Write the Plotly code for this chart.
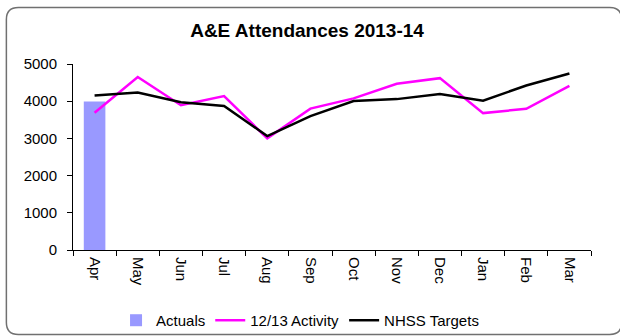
import plotly.graph_objects as go

months = ["Apr", "May", "Jun", "Jul", "Aug", "Sep", "Oct", "Nov", "Dec", "Jan", "Feb", "Mar"]
actuals = [3990, None, None, None, None, None, None, None, None, None, None, None]
activity_1213 = [3690, 4650, 3890, 4140, 3000, 3800, 4075, 4470, 4620, 3680, 3796, 4410]
nhss_targets = [4155, 4236, 3970, 3869, 3064, 3600, 4003, 4056, 4190, 4011, 4423, 4745]
y_ticks = [0, 1000, 2000, 3000, 4000, 5000]

W, H = 620, 336
ML, MR, MT, MB = 72.7, 28.7, 63.7, 85.7
pw, ph = W - ML - MR, H - MT - MB


def px(x):
    return (x - ML) / pw


def py(y):
    return (H - MB - y) / ph


fig = go.Figure()
fig.add_trace(go.Bar(x=months, y=actuals, name="Actuals", marker_color="#9999FF",
                     width=0.5, marker_line_width=0))
fig.add_trace(go.Scatter(x=months, y=activity_1213, name="12/13 Activity", mode="lines",
                         line=dict(color="#FF00FF", width=2.5)))
fig.add_trace(go.Scatter(x=months, y=nhss_targets, name="NHSS Targets", mode="lines",
                         line=dict(color="#000000", width=2.5)))

# rounded chart border
x0, x1, y0, y1, r = 6, 622, 7, 335, 12
path = (f"M {px(x0+r)},{py(y0)} L {px(x1-r)},{py(y0)} Q {px(x1)},{py(y0)} {px(x1)},{py(y0+r)} "
        f"L {px(x1)},{py(y1-r)} Q {px(x1)},{py(y1)} {px(x1-r)},{py(y1)} "
        f"L {px(x0+r)},{py(y1)} Q {px(x0)},{py(y1)} {px(x0)},{py(y1-r)} "
        f"L {px(x0)},{py(y0+r)} Q {px(x0)},{py(y0)} {px(x0+r)},{py(y0)} Z")
fig.add_shape(type="path", path=path, xref="paper", yref="paper",
              line=dict(color="#707070", width=1.5), layer="below")

fig.update_layout(
    width=W, height=H,
    margin=dict(l=ML, r=MR, t=MT, b=MB, autoexpand=False),
    paper_bgcolor="white", plot_bgcolor="white",
    font=dict(family="Liberation Sans, Arial, sans-serif", size=15, color="#000000"),
    title=dict(text="<b>A&E Attendances 2013-14</b>", x=px(307), xanchor="center",
               xref="paper", y=1 - 30 / H, yanchor="middle", font=dict(size=19),
               automargin=False),
    showlegend=True,
    legend=dict(orientation="h", x=px(300), xanchor="center", y=py(321), yanchor="middle",
                font=dict(size=15), bgcolor="rgba(0,0,0,0)", traceorder="normal",
                itemwidth=30),
    bargap=0.5,
)
fig.update_xaxes(type="category", range=[-0.5, 11.5], showline=True, linecolor="#000000",
                 linewidth=1, ticks="outside", tickson="boundaries", ticklen=5,
                 tickcolor="#000000", tickangle=90, showgrid=False, zeroline=False,
                 tickfont=dict(size=15), automargin=False, ticklabelstandoff=3)
fig.update_yaxes(range=[0, 5000], tickvals=y_ticks, showline=True, linecolor="#000000",
                 linewidth=1, ticks="outside", ticklen=5, tickcolor="#000000",
                 showgrid=False, zeroline=False, tickfont=dict(size=15), automargin=False,
                 ticklabelstandoff=7)

fig.write_html("out.html")
